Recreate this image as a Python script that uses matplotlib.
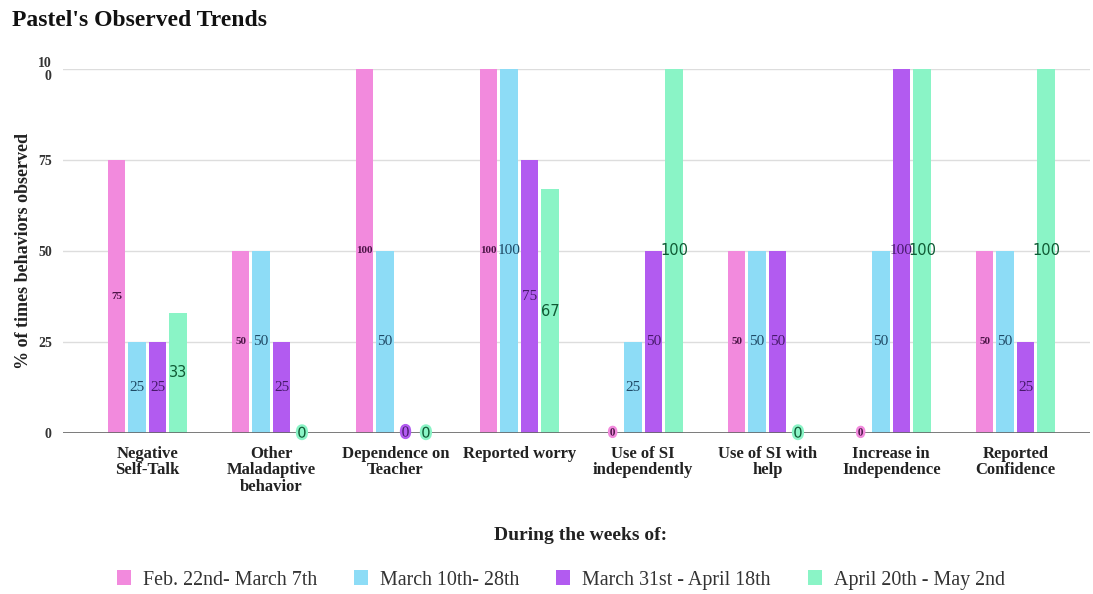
import matplotlib
matplotlib.use("Agg")
import matplotlib.pyplot as plt
import matplotlib.patheffects as pe
import numpy as np

categories = ["Negative\nSelf-Talk", "Other\nMaladaptive\nbehavior", "Dependence on\nTeacher",
              "Reported worry", "Use of SI\nindependently", "Use of SI with\nhelp",
              "Increase in\nIndependence", "Reported\nConfidence"]
series_names = ["Feb. 22nd- March 7th", "March 10th- 28th",
                "March 31st - April 18th", "April 20th - May 2nd"]
feb_mar = [75, 50, 100, 100, 0, 50, 0, 50]
mar = [25, 50, 50, 100, 25, 50, 50, 50]
mar_apr = [25, 25, 0, 75, 50, 50, 100, 25]
apr_may = [33, 0, 0, 67, 100, 0, 100, 100]
y_ticks = [0, 25, 50, 75, 100]
y_tick_labels = ["0", "25", "50", "75", "10\n0"]

values = [feb_mar, mar, mar_apr, apr_may]
colors = ["#F28ADD", "#8DDCF6", "#B25BF0", "#8AF4C6"]
label_colors = ["#4d1548", "#1f4a66", "#47196b", "#0f5a34"]
label_styles = [
    dict(family="Liberation Serif", fontsize=8, fontweight="bold"),
    dict(family="Liberation Serif", fontsize=11),
    dict(family="Liberation Serif", fontsize=11),
    dict(family="DejaVu Sans", fontsize=10.5),
]

serif = "Liberation Serif"

fig = plt.figure(figsize=(10.93, 5.94), dpi=100)
ax = fig.add_axes([0.0576, 0.271, 0.9394, 0.613])

x = np.arange(len(categories))
width = 0.141
step = 0.165

for j, (vals, col) in enumerate(zip(values, colors)):
    pos = x + (j - 1.5) * step
    bars = ax.bar(pos, vals, width, color=col, label=series_names[j], zorder=3)
    for bar, v in zip(bars, vals):
        cx = bar.get_x() + bar.get_width() / 2
        t = ax.text(cx, v / 2, f"{v}", ha="center", va="center",
                    color=label_colors[j], zorder=5, **label_styles[j])
        if v == 0:
            t.set_path_effects([pe.withStroke(linewidth=3.5, foreground=col)])

ax.set_xlim(-0.68, 7.6)
ax.set_ylim(0, 100)
ax.set_yticks(y_ticks)
ax.set_yticklabels(y_tick_labels, family=serif, fontweight="bold", fontsize=10, color="#333333",
                   linespacing=0.95)
ax.set_xticks(x)
ax.set_xticklabels(categories, family=serif, fontweight="bold", fontsize=12, color="#222222",
                   linespacing=1.05)
ax.tick_params(axis="both", length=0)
ax.tick_params(axis="y", pad=8)
ax.tick_params(axis="x", pad=9)

ax.grid(axis="y", color="#dddddd", linewidth=1, zorder=0)
ax.axhline(0, color="#666666", linewidth=1.2, zorder=4)
for s in ax.spines.values():
    s.set_visible(False)

ax.set_ylabel("% of times behaviors observed", family=serif, fontweight="bold",
              fontsize=13, color="#222222", labelpad=4)

fig.text(0.011, 0.965, "Pastel's Observed Trends", family=serif, fontweight="bold",
         fontsize=17, color="#111111", ha="left", va="center")
fig.text(0.531, 0.098, "During the weeks of:", family=serif, fontweight="bold",
         fontsize=14, color="#222222", ha="center", va="center")

leg = fig.legend(loc="center", bbox_to_anchor=(0.513, 0.024), ncol=4, frameon=False,
                 prop=dict(family=serif, size=14.4), handlelength=0.7, handleheight=0.8,
                 handletextpad=0.6, columnspacing=1.85)
for txt in leg.get_texts():
    txt.set_color("#333333")

fig.savefig("out.png", dpi=100)
